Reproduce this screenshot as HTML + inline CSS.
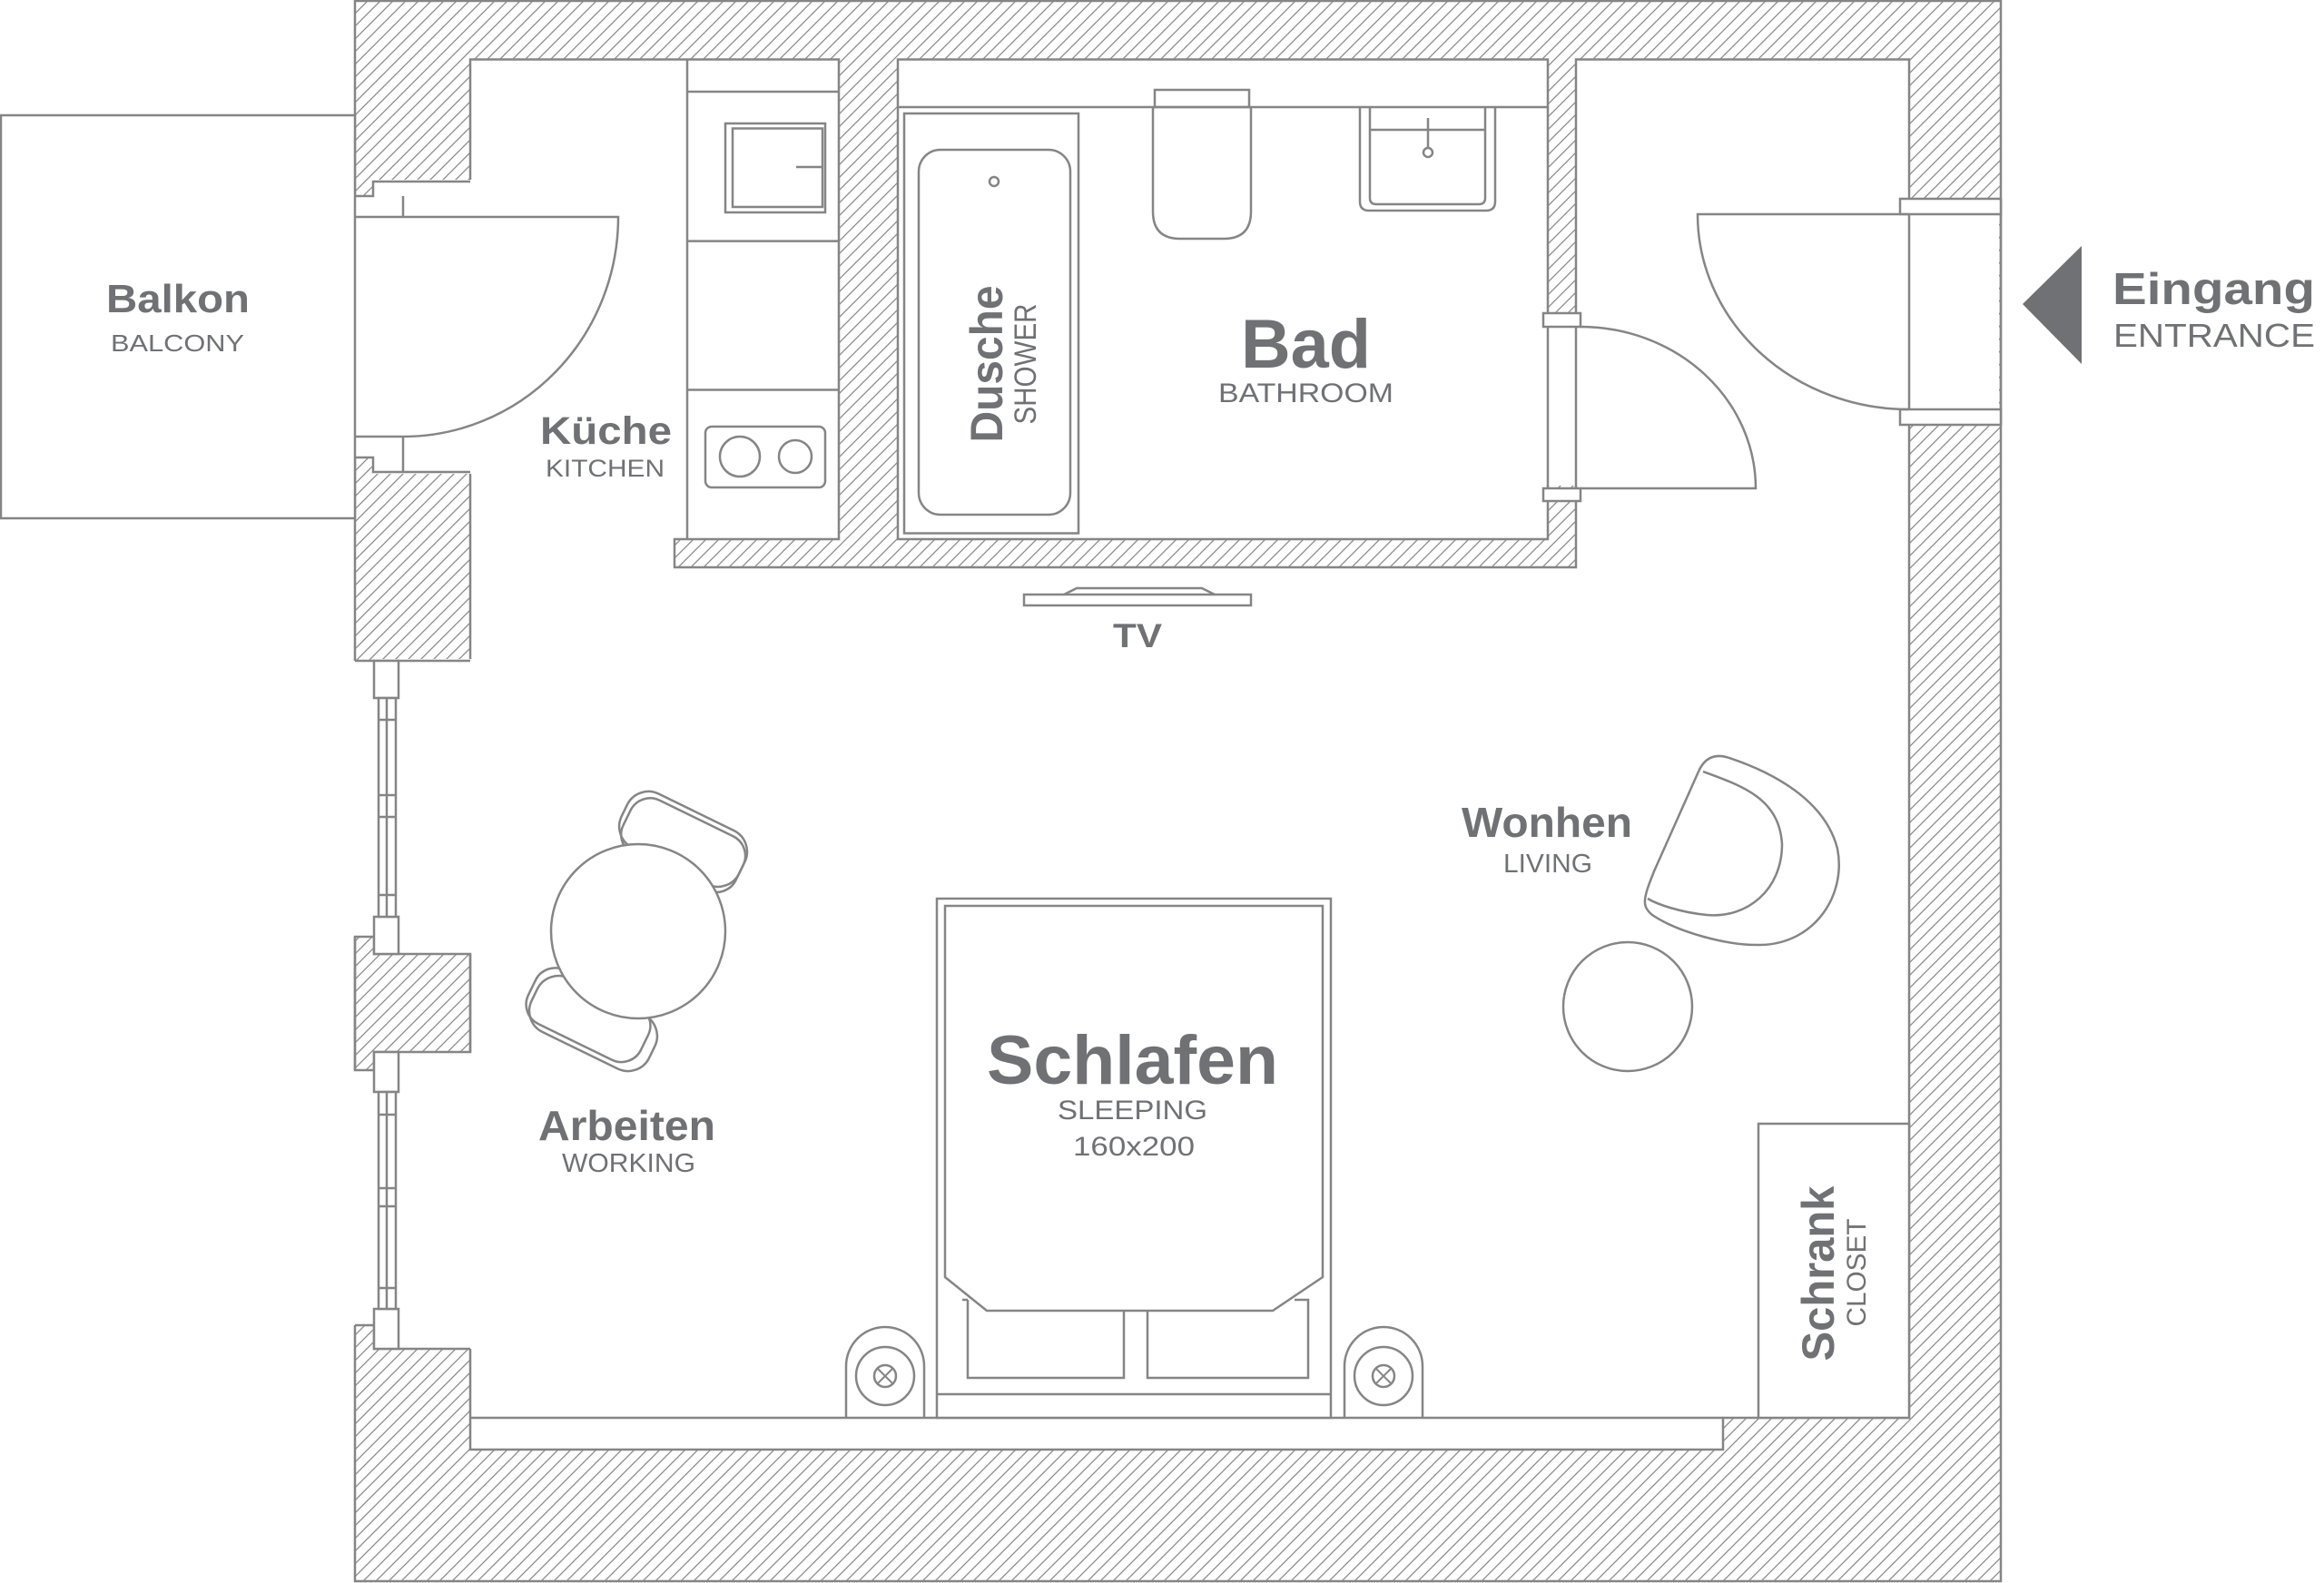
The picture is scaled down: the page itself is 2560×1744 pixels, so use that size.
<!DOCTYPE html>
<html><head><meta charset="utf-8"><style>
html,body{margin:0;padding:0;background:#fff;}
svg{display:block;}
text{font-family:"Liberation Sans",sans-serif;fill:#707174;}
.b{font-weight:bold;}
</style></head><body>
<svg width="2560" height="1744" viewBox="0 0 2560 1744" xmlns="http://www.w3.org/2000/svg">
<defs>
<pattern id="h" patternUnits="userSpaceOnUse" width="14" height="14">
<path d="M-2,2 l4,-4 M0,14 l14,-14 M12,16 l4,-4" stroke="#8a8a8a" stroke-width="1.3"/>
</pattern>
</defs>
<g fill="none" stroke="#858585" stroke-width="2.5">
<rect x="391" y="1" width="1813" height="1741" fill="url(#h)"/>
<path d="M518,65.5 H924 V594 H743 V625 H1736 V65.5 H2103 V1562 H1898 V1597 H518 Z" fill="#fff"/>
<rect x="989" y="65.5" width="716" height="528.5" fill="#fff"/>
<rect x="385" y="216" width="133" height="288" fill="#fff" stroke="none"/>
<rect x="411" y="198" width="109" height="324" fill="#fff" stroke="none"/>
<path d="M518,200 H411 V216 H391 M391,504 H411 V520 H518"/>
<path d="M444,216 V239 M444,481 V520"/>
<path d="M391,239 H681 A237,242 0 0 1 444,481 H391"/>
<rect x="385" y="728" width="133" height="304" fill="#fff" stroke="none"/>
<rect x="411" y="726" width="109" height="325" fill="#fff" stroke="none"/>
<rect x="385" y="1179" width="133" height="281" fill="#fff" stroke="none"/>
<rect x="411" y="1159" width="109" height="327" fill="#fff" stroke="none"/>
<path d="M391,728 H518"/>
<path d="M391,1032 H412 V1051 H518 V1159 H412 V1179 H391 Z"/>
<path d="M391,1460 H412 V1486 H518"/>
<rect x="412" y="728" width="27" height="41" fill="#fff"/>
<rect x="412" y="1010" width="27" height="41" fill="#fff"/>
<rect x="412" y="1159" width="27" height="44" fill="#fff"/>
<rect x="412" y="1442" width="27" height="44" fill="#fff"/>
<rect x="417" y="769" width="19" height="241" fill="#fff"/>
<rect x="417" y="1203" width="19" height="239" fill="#fff"/>
<path d="M426,769 V1010 M426,1203 V1442 M417,793 H436 M417,876 H436 M417,900 H436 M417,986 H436 M417,1228 H436 M417,1309 H436 M417,1329 H436 M417,1419 H436"/>
<rect x="1" y="127" width="390" height="444" fill="#fff"/>
<path d="M518,1562 H1898"/>
<path d="M757,65.5 V594 M757,101 H924 M757,265.6 H924 M757,429.5 H924"/>
<rect x="799" y="136" width="110" height="98"/>
<rect x="807" y="141.5" width="99" height="86.5"/>
<path d="M877,184 H906"/>
<rect x="777" y="470" width="132" height="67" rx="7"/>
<circle cx="815" cy="503" r="22"/>
<circle cx="876" cy="503" r="18"/>
<path d="M989,118 H1705"/>
<rect x="996" y="125" width="192" height="462.5"/>
<rect x="1012" y="165" width="167" height="402" rx="24"/>
<circle cx="1095" cy="200" r="5"/>
<rect x="1272" y="99" width="104" height="19"/>
<path d="M1270,118 V233 Q1270,263 1300,263 H1348 Q1378,263 1378,233 V118"/>
<path d="M1498,118 V222 Q1498,232 1508,232 H1637 Q1647,232 1647,222 V118"/>
<path d="M1509,118 V218 Q1509,225 1516,225 H1629 Q1636,225 1636,218 V118 M1509,143 H1636"/>
<path d="M1573,130 V162"/>
<circle cx="1573" cy="168" r="5"/>
<rect x="1703" y="345" width="35" height="190" fill="#fff" stroke="none"/>
<path d="M1705,360 V538 M1736,360 V538"/>
<rect x="1700" y="345" width="41" height="15" fill="#fff"/>
<rect x="1700" y="538" width="41" height="14" fill="#fff"/>
<path d="M1741,360 A193,178 0 0 1 1934,538 H1741"/>
<rect x="2101" y="236" width="101" height="215" fill="#fff" stroke="none"/>
<path d="M2103,236 V451 M2204,219 V468"/>
<rect x="2093" y="219" width="111" height="17" fill="#fff"/>
<rect x="2093" y="451" width="111" height="17" fill="#fff"/>
<path d="M2103,236 H1870 A233,215 0 0 0 2103,451"/>
<rect x="1128" y="655" width="250" height="12"/>
<path d="M1172,655 L1186,648 H1324 L1338,655"/>
<g transform="translate(703,1026) rotate(26)">
<rect x="-72" y="-146" width="144" height="66" rx="26"/>
<rect x="-66" y="-140" width="138" height="66" rx="24"/>
<rect x="-72" y="80" width="144" height="66" rx="26"/>
<rect x="-78" y="74" width="138" height="66" rx="24"/>
</g>
<circle cx="703" cy="1026" r="96" fill="#fff"/>
<rect x="1032" y="990" width="434" height="572" fill="#fff"/>
<path d="M1041,998 H1457 V1407 L1402,1444 H1087 L1041,1407 Z"/>
<path d="M1066,1432 V1518 H1238 V1444 M1060,1432 H1066 M1264,1444 V1518 H1441 V1432 H1426"/>
<path d="M1032,1536 H1466"/>
<path d="M932,1562 V1505 A43,43 0 0 1 1018,1505 V1562"/>
<circle cx="975" cy="1516" r="32"/><circle cx="975" cy="1516" r="12"/>
<path d="M966,1507 L984,1525 M984,1507 L966,1525" stroke-width="2"/>
<path d="M1481,1562 V1505 A43,43 0 0 1 1567,1505 V1562"/>
<circle cx="1524" cy="1516" r="32"/><circle cx="1524" cy="1516" r="12"/>
<path d="M1515,1507 L1533,1525 M1533,1507 L1515,1525" stroke-width="2"/>
<path d="M1871,850 C1878,834 1890,830 1905,835 C1950,850 2010,880 2024,935 C2034,985 2000,1040 1939,1041 C1905,1042 1850,1028 1820,1008 C1808,998 1810,990 1822,960 Z" fill="#fff"/>
<path d="M1876,850 C1920,866 1960,880 1963,930 C1963,980 1925,1012 1880,1008 C1850,1005 1825,996 1815,990"/>
<circle cx="1793" cy="1109" r="71"/>
<rect x="1937" y="1238" width="166" height="324" fill="#fff"/>
</g>
<path d="M2228,335 L2293,271 V401 Z" fill="#707174"/>
<text class="b" x="117" y="344" font-size="44" textLength="158" lengthAdjust="spacingAndGlyphs">Balkon</text>
<text x="122" y="387" font-size="26" textLength="147" lengthAdjust="spacingAndGlyphs">BALCONY</text>
<text class="b" x="595" y="489" font-size="43" textLength="145" lengthAdjust="spacingAndGlyphs">Küche</text>
<text x="601" y="525" font-size="27" textLength="131" lengthAdjust="spacingAndGlyphs">KITCHEN</text>
<text class="b" x="1367" y="405" font-size="76" textLength="143" lengthAdjust="spacingAndGlyphs">Bad</text>
<text x="1342" y="443" font-size="30" textLength="193" lengthAdjust="spacingAndGlyphs">BATHROOM</text>
<text class="b" transform="translate(1104,401) rotate(-90)" text-anchor="middle" font-size="50" textLength="173" lengthAdjust="spacingAndGlyphs">Dusche</text>
<text transform="translate(1141,401) rotate(-90)" text-anchor="middle" font-size="34" textLength="133" lengthAdjust="spacingAndGlyphs">SHOWER</text>
<text class="b" x="2327" y="335" font-size="49" textLength="223" lengthAdjust="spacingAndGlyphs">Eingang</text>
<text x="2328" y="382" font-size="36" textLength="222" lengthAdjust="spacingAndGlyphs">ENTRANCE</text>
<text class="b" x="1226" y="713" font-size="37" textLength="54" lengthAdjust="spacingAndGlyphs">TV</text>
<text class="b" x="1087" y="1194" font-size="76" textLength="321" lengthAdjust="spacingAndGlyphs">Schlafen</text>
<text x="1165" y="1233" font-size="30" textLength="165" lengthAdjust="spacingAndGlyphs">SLEEPING</text>
<text x="1182" y="1273" font-size="30" textLength="134" lengthAdjust="spacingAndGlyphs">160x200</text>
<text class="b" x="593" y="1256" font-size="46" textLength="195" lengthAdjust="spacingAndGlyphs">Arbeiten</text>
<text x="619" y="1291" font-size="29" textLength="147" lengthAdjust="spacingAndGlyphs">WORKING</text>
<text class="b" x="1610" y="922" font-size="46" textLength="188" lengthAdjust="spacingAndGlyphs">Wonhen</text>
<text x="1656" y="961" font-size="29" textLength="98" lengthAdjust="spacingAndGlyphs">LIVING</text>
<text class="b" transform="translate(2020,1403) rotate(-90)" text-anchor="middle" font-size="50" textLength="193" lengthAdjust="spacingAndGlyphs">Schrank</text>
<text transform="translate(2055,1402) rotate(-90)" text-anchor="middle" font-size="30" textLength="119" lengthAdjust="spacingAndGlyphs">CLOSET</text>
</svg>
</body></html>
